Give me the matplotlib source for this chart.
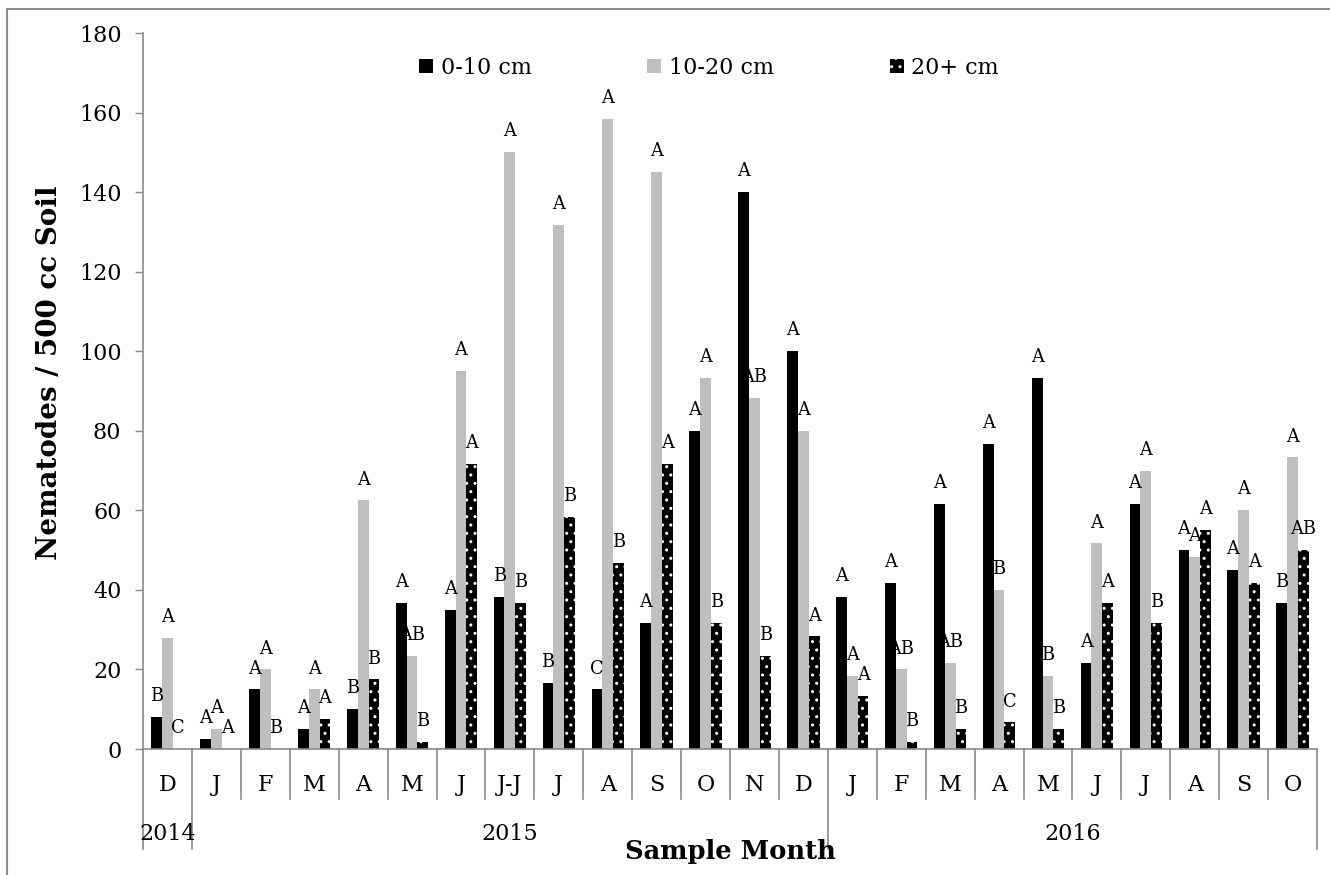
import matplotlib
matplotlib.use("Agg")
import matplotlib.pyplot as plt
from matplotlib.patches import Patch
from matplotlib.lines import Line2D
import matplotlib.transforms as mtransforms

months = ['D', 'J', 'F', 'M', 'A', 'M', 'J', 'J-J', 'J', 'A', 'S', 'O', 'N', 'D',
          'J', 'F', 'M', 'A', 'M', 'J', 'J', 'A', 'S', 'O']
years = ['2014', '2015', '2016']
year_counts = [1, 13, 10]

series_names = ['0-10 cm', '10-20 cm', '20+ cm']
depth_0_10 = [8, 2.5, 15, 5, 10, 36.7, 35, 38.3, 16.7, 15, 31.7, 80, 140, 100,
              38.3, 41.7, 61.7, 76.7, 93.3, 21.7, 61.7, 50, 45, 36.7]
depth_10_20 = [28, 5, 20, 15, 62.5, 23.3, 95, 150, 131.7, 158.3, 145, 93.3, 88.3, 80,
               18.3, 20, 21.7, 40, 18.3, 51.7, 70, 48.3, 60, 73.3]
depth_20p = [0, 0, 0, 7.5, 17.5, 1.7, 71.7, 36.7, 58.3, 46.7, 71.7, 31.7, 23.3, 28.3,
             13.3, 1.7, 5, 6.7, 5, 36.7, 31.7, 55, 41.7, 50]

letters_0_10 = ['B', 'A', 'A', 'A', 'B', 'A', 'A', 'B', 'B', 'C', 'A', 'A', 'A', 'A',
                'A', 'A', 'A', 'A', 'A', 'A', 'A', 'A', 'A', 'B']
letters_10_20 = ['A', 'A', 'A', 'A', 'A', 'AB', 'A', 'A', 'A', 'A', 'A', 'A', 'AB', 'A',
                 'A', 'AB', 'AB', 'B', 'B', 'A', 'A', 'A', 'A', 'A']
letters_20p = ['C', 'A', 'B', 'A', 'B', 'B', 'A', 'B', 'B', 'B', 'A', 'B', 'B', 'A',
               'A', 'B', 'B', 'C', 'B', 'A', 'B', 'A', 'A', 'AB']

plt.rcParams['font.family'] = ['DejaVu Serif']
plt.rcParams['hatch.linewidth'] = 1.0

W, H = 1330, 875
fig = plt.figure(figsize=(W / 100, H / 100), dpi=100)
ax = fig.add_axes([143 / W, (H - 749) / H, (1317 - 143) / W, (749 - 33) / H])

axis_gray = '#8a8a8a'
bw = 0.22
x = list(range(len(months)))
styles = [
    dict(color='black', edgecolor='black', linewidth=0),
    dict(color='#bfbfbf', edgecolor='#bfbfbf', linewidth=0),
    dict(facecolor='black', edgecolor='white', linewidth=0, hatch='..'),
]
data = [depth_0_10, depth_10_20, depth_20p]
letters = [letters_0_10, letters_10_20, letters_20p]
offsets = [-bw, 0, bw]

for vals, labs, off, st in zip(data, letters, offsets, styles):
    xs = [i + off for i in x]
    ax.bar(xs, vals, width=bw, **st)
    for xi, v, lab in zip(xs, vals, labs):
        ax.annotate(lab, (xi, v), xytext=(0, 15), textcoords='offset points',
                    ha='center', va='center', fontsize=12.8)

ax.set_xlim(-0.5, len(months) - 0.5)
ax.set_ylim(0, 180)
ax.set_yticks(range(0, 181, 20))
ax.tick_params(axis='y', direction='out', length=5.5, width=1, color=axis_gray,
               labelsize=16, pad=10)
ax.set_xticks([])
for s in ['top', 'right']:
    ax.spines[s].set_visible(False)
for s in ['left', 'bottom']:
    ax.spines[s].set_color(axis_gray)
    ax.spines[s].set_linewidth(1.2)

# multi-level category axis
trans = mtransforms.blended_transform_factory(ax.transData, ax.transAxes)
ax_h = 749 - 33
short = 50 / ax_h
long_ = 100 / ax_h
year_bounds = [-0.5]
acc = -0.5
for c in year_counts:
    acc += c
    year_bounds.append(acc)
for i in range(len(months) + 1):
    b = i - 0.5
    depth = long_ if any(abs(b - yb) < 1e-6 for yb in year_bounds) else short
    ax.add_line(Line2D([b, b], [0, -depth], transform=trans, color=axis_gray,
                       linewidth=1.2, clip_on=False))
for i, m in enumerate(months):
    ax.text(i, -36 / ax_h, m, transform=trans, ha='center', va='center', fontsize=16)
start = -0.5
for yname, c in zip(years, year_counts):
    ax.text(start + c / 2, -85 / ax_h, yname, transform=trans, ha='center',
            va='center', fontsize=16)
    start += c

fig.text(730 / W, 1 - 852 / H, 'Sample Month', ha='center', va='center',
         fontsize=18.5, fontweight='bold')
fig.text(50 / W, 1 - 373 / H, 'Nematodes / 500 cc Soil', ha='center', va='center',
         fontsize=20, fontweight='bold', rotation=90)

handles = [Patch(**styles[0]), Patch(**styles[1]), Patch(**styles[2])]
fig.legend(handles, series_names, ncol=3, loc='center left',
           bbox_to_anchor=(419 / W, 1 - 68 / H), frameon=False, fontsize=16,
           handlelength=0.63, handleheight=0.63, handletextpad=0.35,
           columnspacing=5.2, borderpad=0, borderaxespad=0)

# chart area border (top and left visible)
fig.add_artist(Line2D([7 / W, 1], [1 - 9 / H, 1 - 9 / H], transform=fig.transFigure,
                      color='#8c8c8c', linewidth=1.5))
fig.add_artist(Line2D([7 / W, 7 / W], [0, 1 - 9 / H], transform=fig.transFigure,
                      color='#8c8c8c', linewidth=1.5))

fig.savefig('out.png', dpi=100)
